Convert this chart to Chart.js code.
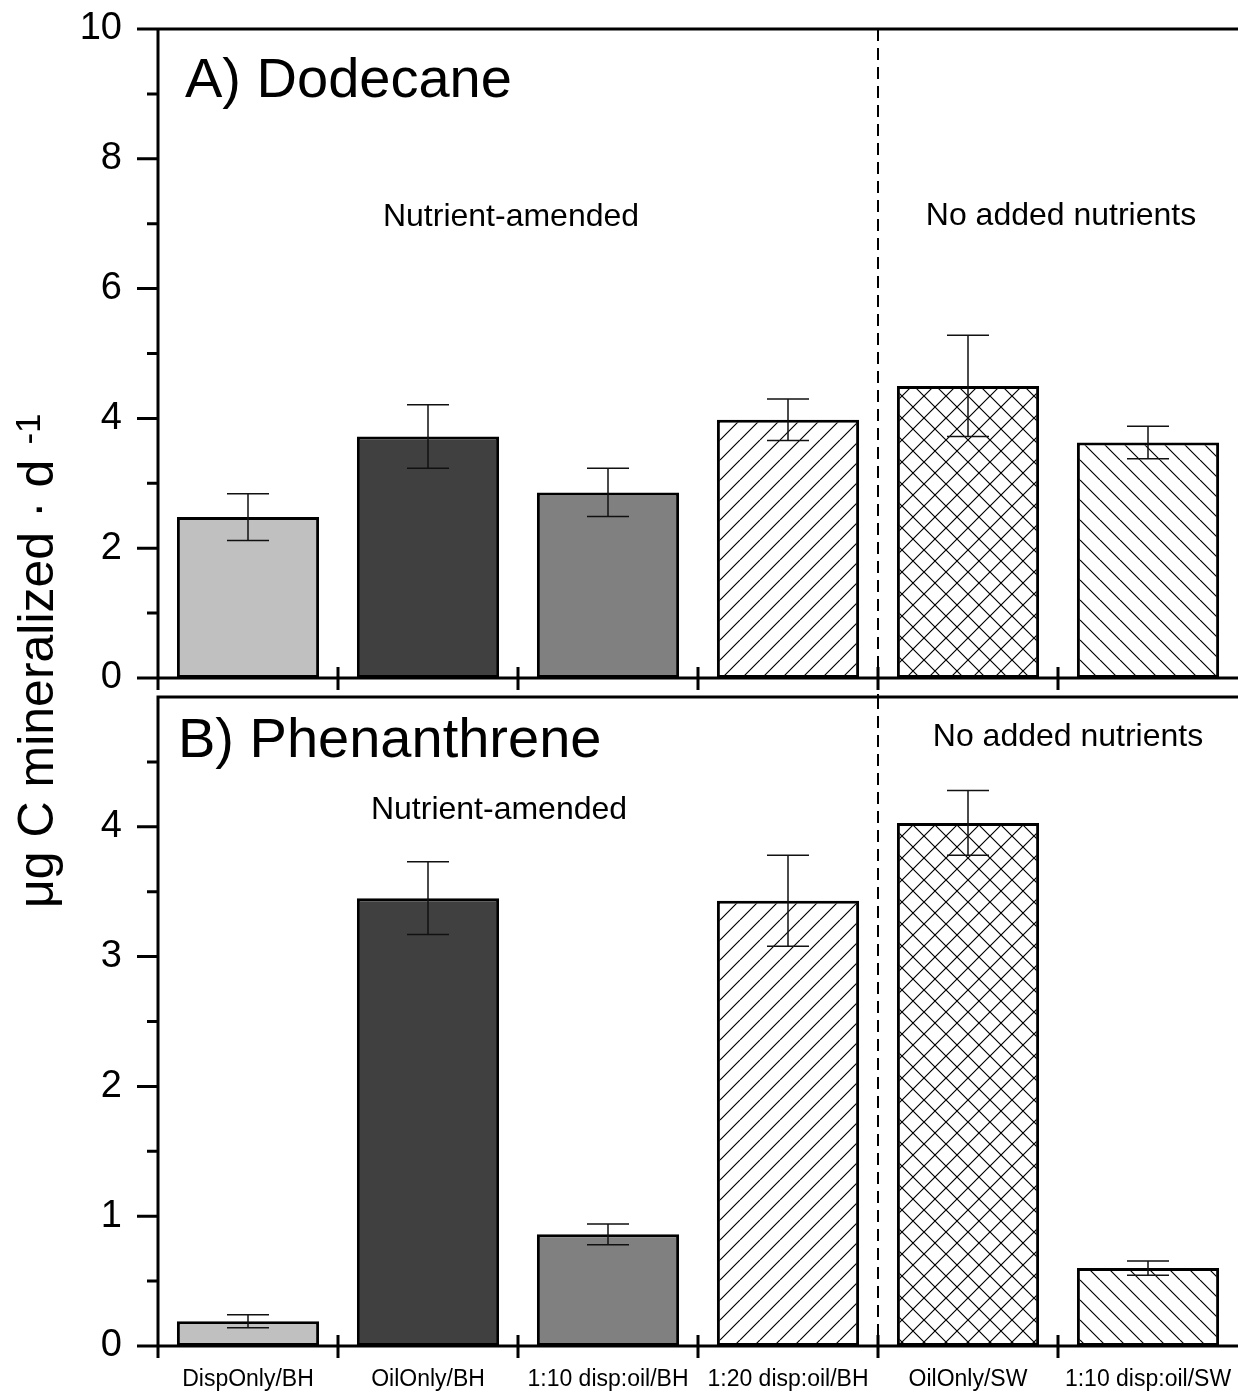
<!DOCTYPE html>
<html>
<head>
<meta charset="utf-8">
<script src="https://cdn.jsdelivr.net/npm/chart.js@4.4.1/dist/chart.umd.min.js"></script>
<style>
  html, body { margin: 0; padding: 0; background: #fff; }
  #wrap { position: relative; width: 1238px; height: 1392px; }
  canvas { position: absolute; left: 0; top: 0; }
</style>
</head>
<body>
<div id="wrap">
  <canvas id="chartA" width="1238" height="1392"></canvas>
  <canvas id="chartB" width="1238" height="1392"></canvas>
</div>
<script>
const categories = ["DispOnly/BH", "OilOnly/BH", "1:10 disp:oil/BH", "1:20 disp:oil/BH", "OilOnly/SW", "1:10 disp:oil/SW"];
const dodecane = [2.48, 3.72, 2.86, 3.98, 4.50, 3.63];
const dodecaneSd = [0.36, 0.49, 0.37, 0.32, 0.78, 0.25];
const phenanthrene = [0.19, 3.45, 0.86, 3.43, 4.03, 0.60];
const phenanthreneSd = [0.05, 0.28, 0.08, 0.35, 0.25, 0.055];

const FONT = '"Liberation Sans", Arial, sans-serif';
Chart.defaults.font.family = FONT;
Chart.defaults.color = '#000';

// hatched fills: '/' , 'x', '\'
function hatch(kind, size) {
  const c = document.createElement('canvas');
  c.width = size; c.height = size;
  const g = c.getContext('2d');
  g.fillStyle = '#fff';
  g.fillRect(0, 0, size, size);
  g.strokeStyle = '#000';
  g.lineWidth = 1.2;
  g.beginPath();
  for (let k = -1; k <= 1; k++) {
    if (kind === '/' || kind === 'x') {
      g.moveTo(k * size, size);
      g.lineTo(k * size + size, 0);
    }
    if (kind === '\\' || kind === 'x') {
      g.moveTo(k * size, 0);
      g.lineTo(k * size + size, size);
    }
  }
  g.stroke();
  return g.createPattern(c, 'repeat');
}

const fills = ['#c0c0c0', '#404040', '#808080', hatch('/', 20), hatch('x', 22), hatch('\\', 20)];

function drawText(ctx, str, x, y, size, align, baseline) {
  ctx.font = size + 'px ' + FONT;
  ctx.textAlign = align;
  ctx.textBaseline = baseline;
  ctx.fillText(str, x, y);
}

// axes frame, ticks, error bars, divider and annotations for one panel
function panelPlugin(opts) {
  return {
    id: 'panel',
    afterDatasetsDraw(chart) {
      const { ctx, scales: { x, y } } = chart;
      ctx.save();
      ctx.strokeStyle = '#111';
      ctx.lineWidth = 1.5;
      opts.values.forEach((v, i) => {
        const px = x.getPixelForValue(i);
        const hi = y.getPixelForValue(v + opts.sd[i]);
        const lo = y.getPixelForValue(v - opts.sd[i]);
        ctx.beginPath();
        ctx.moveTo(px, hi); ctx.lineTo(px, lo);
        ctx.moveTo(px - 21, hi); ctx.lineTo(px + 21, hi);
        ctx.moveTo(px - 21, lo); ctx.lineTo(px + 21, lo);
        ctx.stroke();
      });
      ctx.restore();
    },
    afterDraw(chart) {
      const { ctx, chartArea: a, scales: { x, y } } = chart;
      ctx.save();
      ctx.strokeStyle = '#000';
      ctx.fillStyle = '#000';

      // dashed divider between the two treatment groups
      const divX = (x.getPixelForValue(3) + x.getPixelForValue(4)) / 2;
      ctx.lineWidth = 2;
      ctx.setLineDash([12, 7]);
      ctx.beginPath();
      ctx.moveTo(divX, a.top);
      ctx.lineTo(divX, a.bottom + opts.dividerExtra);
      ctx.stroke();
      ctx.setLineDash([]);

      ctx.lineWidth = 3;
      ctx.beginPath();
      // left, top, bottom lines
      ctx.moveTo(a.left, a.top - 1.5);
      ctx.lineTo(a.left, a.bottom + 12);
      ctx.moveTo(a.left - (opts.topTick ? 21 : 1.5), a.top);
      ctx.lineTo(a.right, a.top);
      ctx.moveTo(a.left - 21, a.bottom);
      ctx.lineTo(a.right, a.bottom);
      // y ticks
      for (let v = y.min + opts.minor; v < y.max - 1e-6; v += opts.minor) {
        const py = y.getPixelForValue(v);
        const major = Math.abs(v / opts.major - Math.round(v / opts.major)) < 1e-6;
        ctx.moveTo(a.left - (major ? 21 : 11), py);
        ctx.lineTo(a.left, py);
      }
      // category boundary ticks crossing the bottom axis
      for (let i = 1; i < categories.length; i++) {
        const px = (x.getPixelForValue(i - 1) + x.getPixelForValue(i)) / 2;
        ctx.moveTo(px, a.bottom - 11);
        ctx.lineTo(px, a.bottom + 12);
      }
      ctx.stroke();

      drawText(ctx, opts.title, opts.titlePos[0], opts.titlePos[1], 56, 'left', 'alphabetic');
      opts.notes.forEach(n => drawText(ctx, n.text, n.x, n.y, 32, 'center', 'middle'));

      if (opts.yTitle) {
        ctx.translate(53, 908);
        ctx.rotate(-Math.PI / 2);
        ctx.font = '50px ' + FONT;
        ctx.textAlign = 'left';
        ctx.textBaseline = 'alphabetic';
        const main = 'μg C mineralized · d';
        ctx.fillText(main, 0, 0);
        const w = ctx.measureText(main).width;
        ctx.font = '35px ' + FONT;
        ctx.fillText('-1', w + 15, -13);
      }
      ctx.restore();
    }
  };
}

function yScale(max, step, label) {
  return {
    min: 0, max: max,
    afterFit: s => { s.width = 158; s.paddingTop = 0; s.paddingBottom = 0; },
    grid: { display: false, drawTicks: false },
    border: { display: false },
    ticks: { stepSize: step, padding: 36, font: { size: 38 }, callback: label }
  };
}

const barSet = (data) => ({
  data: data,
  backgroundColor: fills,
  borderColor: '#000',
  borderWidth: 3,
  borderSkipped: false,
  categoryPercentage: 1,
  barPercentage: 0.79
});

const common = {
  responsive: false,
  animation: false,
  events: [],
  plugins: { legend: { display: false }, tooltip: { enabled: false } }
};

new Chart(document.getElementById('chartA'), {
  type: 'bar',
  data: { labels: categories, datasets: [barSet(dodecane)] },
  options: {
    ...common,
    layout: { padding: { left: 0, right: 0, top: 29, bottom: 1392 - 678 } },
    scales: {
      x: { display: false },
      y: yScale(10, 1, v => (v % 2 === 0 ? v : ''))
    }
  },
  plugins: [panelPlugin({
    values: dodecane, sd: dodecaneSd, minor: 1, major: 2, topTick: true, dividerExtra: 19,
    title: 'A) Dodecane', titlePos: [185, 97], yTitle: true,
    notes: [
      { text: 'Nutrient-amended', x: 511, y: 217 },
      { text: 'No added nutrients', x: 1061, y: 216 }
    ]
  })]
});

new Chart(document.getElementById('chartB'), {
  type: 'bar',
  data: { labels: categories, datasets: [barSet(phenanthrene)] },
  options: {
    ...common,
    layout: { padding: { left: 0, right: 0, top: 697, bottom: 0 } },
    scales: {
      x: {
        afterFit: s => { s.height = 46; s.paddingLeft = 0; s.paddingRight = 0; },
        grid: { display: false, drawTicks: false },
        border: { display: false },
        ticks: { padding: 20, font: { size: 23 }, maxRotation: 0, autoSkip: false }
      },
      y: yScale(5, 0.5, v => (Number.isInteger(v) && v < 5 ? v : ''))
    }
  },
  plugins: [panelPlugin({
    values: phenanthrene, sd: phenanthreneSd, minor: 0.5, major: 1, topTick: false, dividerExtra: 0,
    title: 'B) Phenanthrene', titlePos: [178, 757], yTitle: false,
    notes: [
      { text: 'No added nutrients', x: 1068, y: 737 },
      { text: 'Nutrient-amended', x: 499, y: 810 }
    ]
  })]
});
</script>
</body>
</html>
